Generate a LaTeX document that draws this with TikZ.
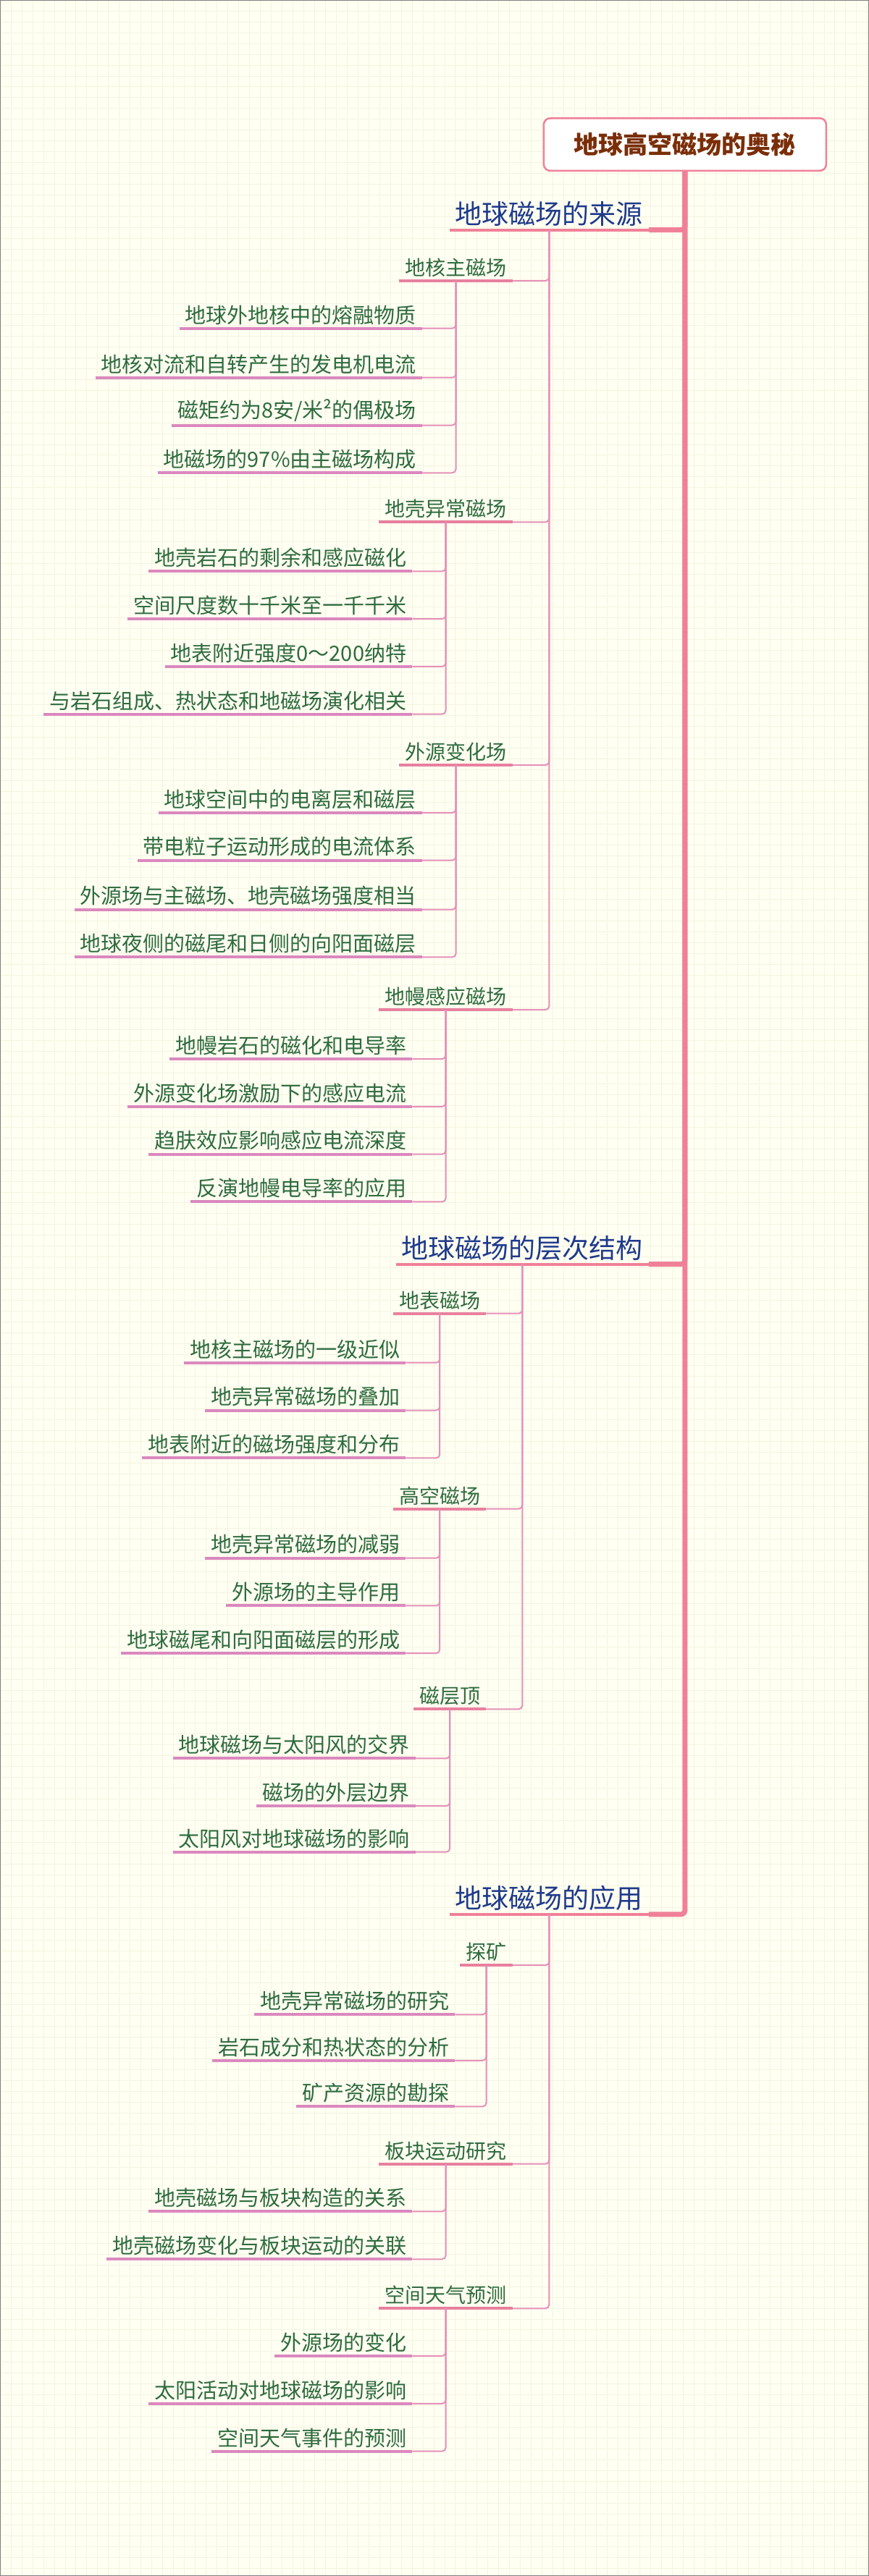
\documentclass[tikz,border=0pt]{standalone}
\usepackage{fontspec}
\setmainfont{Noto Sans CJK SC}
\definecolor{bgc}{HTML}{FFFFF2}
\definecolor{gridc}{HTML}{F4F4E2}
\definecolor{spinec}{HTML}{F08098}
\definecolor{rootc}{HTML}{7A2E08}
\definecolor{bluec}{HTML}{1E3A8C}
\definecolor{greenc}{HTML}{2E6B3F}
\definecolor{utwo}{HTML}{E8809E}
\definecolor{uthree}{HTML}{DB88BE}
\definecolor{thinc}{HTML}{E590B8}
\tikzset{
 lone/.style={anchor=south east,inner xsep=8pt,inner ysep=5pt,text=bluec,font=\fontsize{37pt}{42pt}\selectfont},
 loneu/.style={draw=spinec,line width=4pt},
 lonec/.style={draw=spinec,line width=7pt,rounded corners=6pt},
 ltwo/.style={anchor=south east,inner xsep=8pt,inner ysep=5pt,text=greenc,font=\fontsize{28pt}{33pt}\selectfont},
 ltwou/.style={draw=utwo,line width=4pt},
 ltwoc/.style={draw=thinc,line width=2pt,rounded corners=5pt},
 lthree/.style={anchor=south east,inner xsep=8pt,inner ysep=5pt,text=greenc,font=\fontsize{29pt}{34pt}\selectfont},
 lthreeu/.style={draw=uthree,line width=4pt},
 lthreec/.style={draw=thinc,line width=2pt,rounded corners=5pt},
}
\newcommand{\mykid}[5]{\node[#2] (#1) at #3 {#4};
 \draw[#2u] (#1.south west) -- (#1.south east);
 \draw[#2c] (#1.south east) -| (#5.south);}
\begin{document}
\begin{tikzpicture}[x=2.2684pt,y=-2.2684pt]
\useasboundingbox (0,0) rectangle (529,1569);
\fill[bgc] (0,0) rectangle (529,1569);
\foreach \i in {0,6.6,...,529} {\draw[gridc,line width=0.6pt] (\i,0) -- (\i,1569);}
\foreach \i in {0,6.6,...,1569} {\draw[gridc,line width=0.6pt] (0,\i) -- (529,\i);}
\node[draw=spinec,line width=2.5pt,fill=white,rounded corners=9pt,minimum width=172*2.2684pt,minimum height=32*2.2684pt,text=rootc,font=\fontsize{34pt}{40pt}\selectfont\bfseries] (root) at (417,88) {地球高空磁场的奥秘};
% level 1
\mykid{A}{lone}{(395,140)}{地球磁场的来源}{root}
\mykid{B}{lone}{(395,770)}{地球磁场的层次结构}{root}
\mykid{C}{lone}{(395,1166)}{地球磁场的应用}{root}
% section A
\mykid{A1}{ltwo}{(312,171)}{地核主磁场}{A}
\mykid{A2}{ltwo}{(312,318)}{地壳异常磁场}{A}
\mykid{A3}{ltwo}{(312,466)}{外源变化场}{A}
\mykid{A4}{ltwo}{(312,615)}{地幔感应磁场}{A}
\mykid{A11}{lthree}{(257,200)}{地球外地核中的熔融物质}{A1}
\mykid{A12}{lthree}{(257,230)}{地核对流和自转产生的发电机电流}{A1}
\mykid{A13}{lthree}{(257,259)}{磁矩约为8安/米²的偶极场}{A1}
\mykid{A14}{lthree}{(257,288)}{地磁场的97\%由主磁场构成}{A1}
\mykid{A21}{lthree}{(251,348)}{地壳岩石的剩余和感应磁化}{A2}
\mykid{A22}{lthree}{(251,377)}{空间尺度数十千米至一千千米}{A2}
\mykid{A23}{lthree}{(251,406)}{地表附近强度0～200纳特}{A2}
\mykid{A24}{lthree}{(251,435)}{与岩石组成、热状态和地磁场演化相关}{A2}
\mykid{A31}{lthree}{(257,495)}{地球空间中的电离层和磁层}{A3}
\mykid{A32}{lthree}{(257,524)}{带电粒子运动形成的电流体系}{A3}
\mykid{A33}{lthree}{(257,554)}{外源场与主磁场、地壳磁场强度相当}{A3}
\mykid{A34}{lthree}{(257,583)}{地球夜侧的磁尾和日侧的向阳面磁层}{A3}
\mykid{A41}{lthree}{(251,645)}{地幔岩石的磁化和电导率}{A4}
\mykid{A42}{lthree}{(251,674)}{外源变化场激励下的感应电流}{A4}
\mykid{A43}{lthree}{(251,703)}{趋肤效应影响感应电流深度}{A4}
\mykid{A44}{lthree}{(251,732)}{反演地幔电导率的应用}{A4}
% section B
\mykid{B1}{ltwo}{(296,800)}{地表磁场}{B}
\mykid{B2}{ltwo}{(296,919)}{高空磁场}{B}
\mykid{B3}{ltwo}{(296,1041)}{磁层顶}{B}
\mykid{B11}{lthree}{(247,830)}{地核主磁场的一级近似}{B1}
\mykid{B12}{lthree}{(247,859)}{地壳异常磁场的叠加}{B1}
\mykid{B13}{lthree}{(247,888)}{地表附近的磁场强度和分布}{B1}
\mykid{B21}{lthree}{(247,949)}{地壳异常磁场的减弱}{B2}
\mykid{B22}{lthree}{(247,978)}{外源场的主导作用}{B2}
\mykid{B23}{lthree}{(247,1007)}{地球磁尾和向阳面磁层的形成}{B2}
\mykid{B31}{lthree}{(253,1071)}{地球磁场与太阳风的交界}{B3}
\mykid{B32}{lthree}{(253,1100)}{磁场的外层边界}{B3}
\mykid{B33}{lthree}{(253,1128)}{太阳风对地球磁场的影响}{B3}
% section C
\mykid{C1}{ltwo}{(312,1197)}{探矿}{C}
\mykid{C2}{ltwo}{(312,1318)}{板块运动研究}{C}
\mykid{C3}{ltwo}{(312,1406)}{空间天气预测}{C}
\mykid{C11}{lthree}{(277,1227)}{地壳异常磁场的研究}{C1}
\mykid{C12}{lthree}{(277,1255)}{岩石成分和热状态的分析}{C1}
\mykid{C13}{lthree}{(277,1283)}{矿产资源的勘探}{C1}
\mykid{C21}{lthree}{(251,1347)}{地壳磁场与板块构造的关系}{C2}
\mykid{C22}{lthree}{(251,1376)}{地壳磁场变化与板块运动的关联}{C2}
\mykid{C31}{lthree}{(251,1435)}{外源场的变化}{C3}
\mykid{C32}{lthree}{(251,1464)}{太阳活动对地球磁场的影响}{C3}
\mykid{C33}{lthree}{(251,1493)}{空间天气事件的预测}{C3}
\draw[gray,line width=2pt] (0,0) rectangle (529,1569);
\end{tikzpicture}
\end{document}
